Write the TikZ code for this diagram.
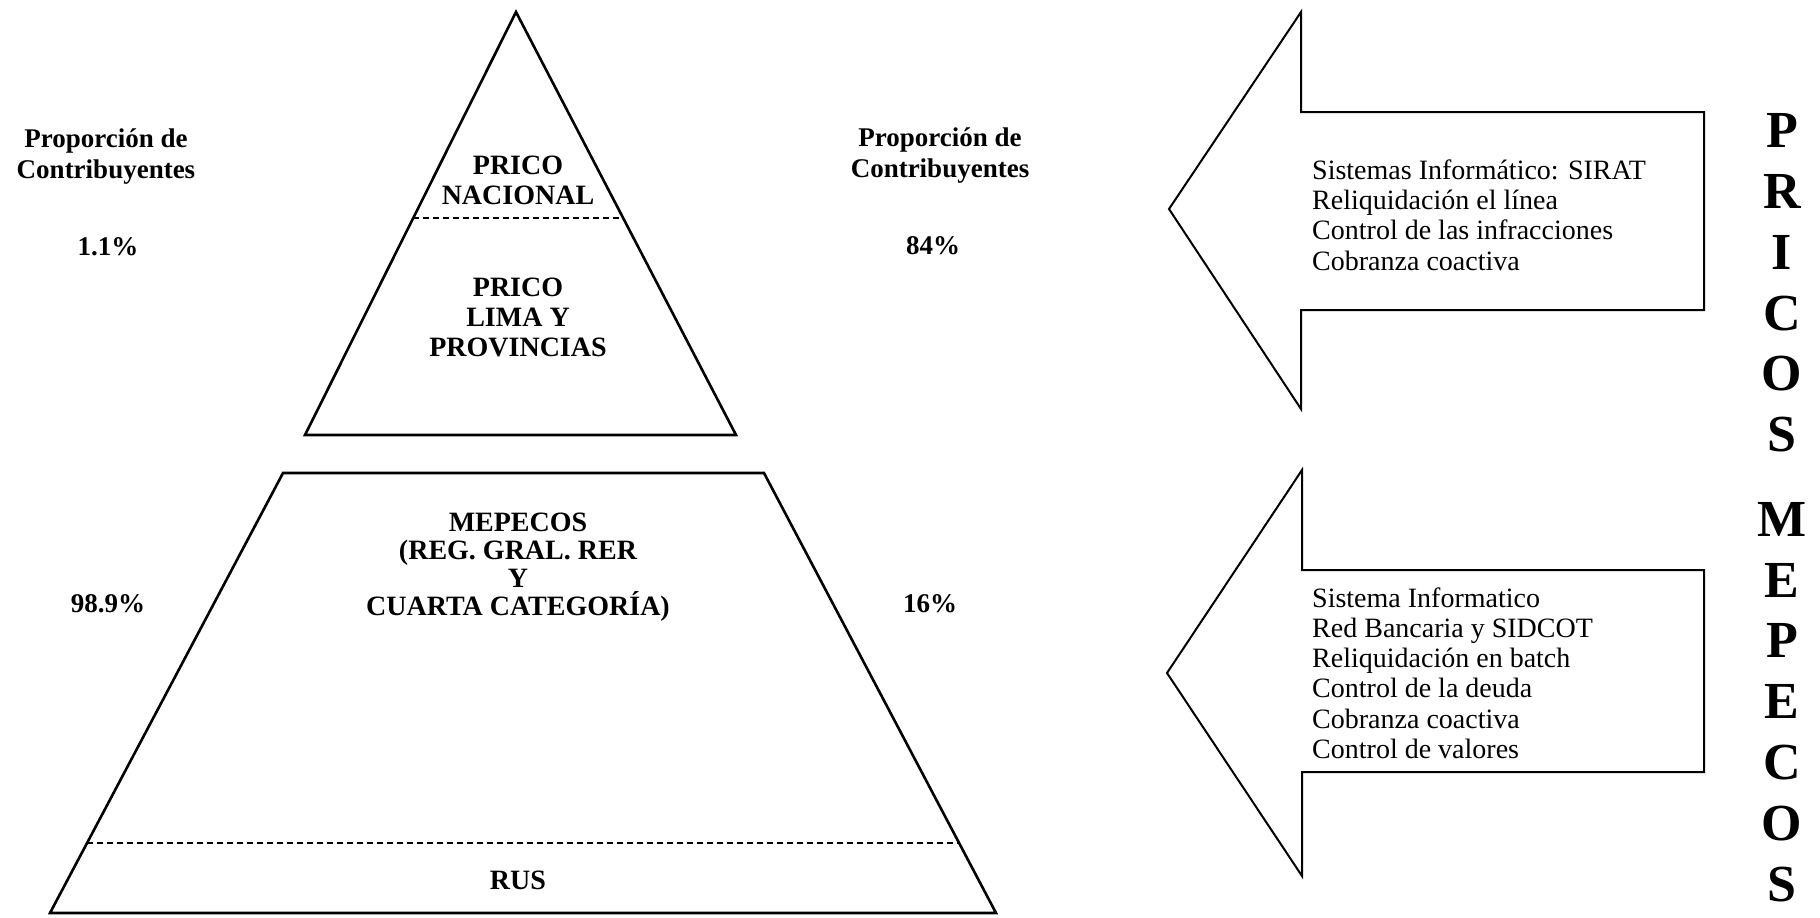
\documentclass[tikz,border=0pt]{standalone}
\usepackage{fontspec}
\setmainfont{Liberation Serif}
\usetikzlibrary{calc}
\begin{document}
\begin{tikzpicture}[x=1pt,y=-1pt,
  shape line/.style={draw=black,line width=2.6pt,line join=miter},
  split line/.style={draw=black,line width=2pt,dash pattern=on 6pt off 4pt},
  arrow outline/.style={draw=black,line width=2pt,line join=miter},
  caption/.style={font=\fontsize{27}{31}\selectfont\bfseries,align=center,inner sep=0pt},
  tier/.style={font=\fontsize{28}{30}\selectfont\bfseries,align=center,inner sep=0pt},
  tasklist/.style={font=\fontsize{28}{30.2}\selectfont,align=left,anchor=west,inner sep=0pt},
  bigletters/.style={font=\fontsize{52}{60.8}\selectfont\bfseries,align=center,inner sep=0pt}]
\useasboundingbox (0,0) rectangle (1820,918);
\fill[white] (0,0) rectangle (1820,918);

% upper pyramid: PRICO
\coordinate (apex) at (516,12);
\coordinate (tl) at (305,435);
\coordinate (tr) at (736,435);
\draw[shape line] (apex) -- (tr) -- (tl) -- cycle;
\draw[split line] ($(apex)!0.487!(tl)$) -- ($(apex)!0.487!(tr)$);
\node[tier] (nac) at (518,180) {PRICO\\NACIONAL};
\node[tier] (lima) at (518,317) {PRICO\\LIMA Y\\PROVINCIAS};

% lower pyramid: MEPECOS
\coordinate (ml) at (283,473);
\coordinate (mr) at (764,473);
\coordinate (bl) at (50,913);
\coordinate (br) at (996,913);
\draw[shape line] (ml) -- (mr) -- (br) -- (bl) -- cycle;
\draw[split line] ($(ml)!0.841!(bl)$) -- ($(mr)!0.841!(br)$);
\node[tier,font=\fontsize{28}{28}\selectfont\bfseries] (mep) at (518,567) {MEPECOS\\(REG. GRAL. RER\\Y\\CUARTA CATEGORÍA)};
\node[tier] (rus) at (518,880) {RUS};

% proportions
\node[caption] (capl) at (106,157) {Proporción de\\Contribuyentes};
\node[caption] (pl1) at (108,247) {1.1\%};
\node[caption] (pl2) at (108,604) {98.9\%};
\node[caption] (capr) at (940,156) {Proporción de\\Contribuyentes};
\node[caption] (pr1) at (933,246) {84\%};
\node[caption] (pr2) at (930,604) {16\%};

% upper arrow
\draw[arrow outline] (1301,12) -- (1301,112) -- (1704,112) -- (1704,310)
  -- (1301,310) -- (1301,409) -- (1169,209) -- cycle;
\node[tasklist] (tup) at (1312,215) {Sistemas Informático: SIRAT\\Reliquidación el línea\\Control de las infracciones\\Cobranza coactiva};

% lower arrow
\draw[arrow outline] (1302,470) -- (1302,570) -- (1704,570) -- (1704,772)
  -- (1302,772) -- (1302,876) -- (1167,673) -- cycle;
\node[tasklist] (tlo) at (1312,673) {Sistema Informatico\\Red Bancaria y SIDCOT\\Reliquidación en batch\\Control de la deuda\\Cobranza coactiva\\Control de valores};

% vertical titles
\node[bigletters] (pricos) at (1782,283) {P\\R\\I\\C\\O\\S};
\node[bigletters] (mepecos) at (1782,702) {M\\E\\P\\E\\C\\O\\S};
\end{tikzpicture}
\end{document}
